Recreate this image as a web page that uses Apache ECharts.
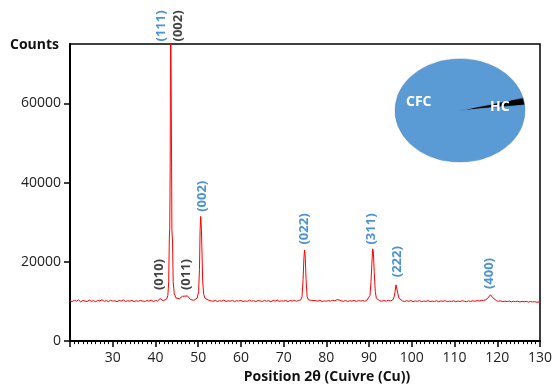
<!DOCTYPE html>
<html>
<head>
<meta charset="utf-8">
<script src="https://cdn.jsdelivr.net/npm/echarts@6/dist/echarts.min.js"></script>
<style>
html,body{margin:0;padding:0;background:#fff;}
#wrap{position:relative;width:559px;height:389px;}
#pie{position:absolute;left:394px;top:58px;width:132px;height:132px;transform:scaleY(0.795);transform-origin:0 0;z-index:1;}
#main{position:absolute;left:0;top:0;width:559px;height:389px;z-index:2;}
</style>
</head>
<body>
<div id="wrap"><div id="pie"></div><div id="main"></div></div>
<script>
// XRD pattern (2θ in degrees, counts)
const twoTheta = [
20.0,20.5,21.0,21.5,22.0,22.5,23.0,23.5,24.0,24.5,25.0,25.5,26.0,26.5,27.0,27.5,28.0,28.5,29.0,29.5,
30.0,30.5,31.0,31.5,32.0,32.5,33.0,33.5,34.0,34.5,35.0,35.5,36.0,36.5,37.0,37.5,38.0,38.5,39.0,39.5,
40.0,40.5,40.8,41.1,41.4,41.8,42.2,42.6,42.9,43.1,43.25,43.35,43.45,43.55,43.65,43.75,43.85,44.0,44.15,44.4,
44.8,45.2,45.6,46.0,46.3,46.6,46.9,47.2,47.5,47.8,48.2,48.6,49.0,49.4,49.8,50.1,50.3,50.45,50.6,50.75,
50.9,51.05,51.3,51.6,52.0,52.5,53.0,53.5,54.0,54.5,55.0,55.5,56.0,56.5,57.0,57.5,58.0,58.5,59.0,59.5,
60.0,60.5,61.0,61.5,62.0,62.5,63.0,63.5,64.0,64.5,65.0,65.5,66.0,66.5,67.0,67.5,68.0,68.5,69.0,69.5,
70.0,70.5,71.0,71.5,72.0,72.5,73.0,73.5,74.0,74.3,74.55,74.75,74.9,75.05,75.25,75.5,75.8,76.2,76.6,77.0,
77.5,78.0,78.5,79.0,79.5,80.0,80.5,81.0,81.5,82.0,82.5,83.0,83.5,84.0,84.5,85.0,85.5,86.0,86.5,87.0,
87.5,88.0,88.5,89.0,89.5,89.9,90.2,90.45,90.7,90.85,91.0,91.2,91.45,91.7,92.0,92.5,93.0,93.5,94.0,94.5,
95.0,95.5,95.8,96.05,96.3,96.5,96.75,97.0,97.4,97.8,98.3,98.8,99.3,99.8,100.3,100.8,101.3,101.8,102.3,102.8,
103.3,103.8,104.3,104.8,105.3,105.8,106.3,106.8,107.3,107.8,108.3,108.8,109.3,109.8,110.3,110.8,111.3,111.8,112.3,112.8,
113.3,113.8,114.3,114.8,115.3,115.8,116.3,116.8,117.3,117.8,118.1,118.4,118.7,119.0,119.4,119.8,120.3,120.8,121.3,121.8,
122.3,122.8,123.3,123.8,124.3,124.8,125.3,125.8,126.3,126.8,127.3,127.8,128.3,128.8,129.3,129.8,130.0
];
const counts = [
10180,9950,10320,10080,10400,9900,10250,10120,9980,10350,10060,10200,9920,10280,10150,10450,10020,10230,9970,10310,
10090,10180,9940,10260,10110,10380,10000,10210,10070,10300,9960,10190,10050,10270,10130,9990,10240,10090,10330,10010,
10220,10120,10350,10750,10400,10200,10350,10600,11500,15000,26000,28500,45000,90000,90000,50000,28000,25000,15000,12000,
10900,10650,10700,10950,11300,11600,11350,11650,11400,10900,10500,10350,10300,10450,10900,12500,18000,28000,31500,28500,
22000,15000,11800,10800,10450,10300,10150,10050,10280,9980,10200,10090,10340,10010,10180,10060,10290,9950,10210,10100,
10270,9990,10150,10040,10310,10080,10190,9960,10240,10120,10020,10280,10070,10200,9940,10250,10110,10330,10030,10170,
10090,10260,9970,10220,10120,10300,10050,10250,10400,11200,15500,21000,23000,21500,15500,11300,10400,10150,10280,10020,
10210,10090,10320,9980,10160,10060,10240,10110,10300,10200,10450,10380,10150,10040,10260,9990,10190,10080,10290,10000,
10230,10110,10260,10050,10350,10600,11500,15000,20500,23300,22500,17500,12500,10800,10350,10180,10050,10240,10090,10290,
10150,10350,10900,12300,14200,13800,11900,10800,10300,10150,9980,10200,10050,10250,9960,10140,10030,10220,9950,10120,
10010,10230,9970,10100,10000,10190,9930,10150,10040,10210,9960,10090,10010,10170,9940,10120,9990,10200,10060,9950,
10140,10020,10180,10050,10240,10130,10300,10250,10450,10850,11350,11700,11400,10900,10400,10200,10050,10150,9940,10090,
9980,10130,9900,10060,9950,10080,9870,10020,9920,10040,9850,9990,9880,9960,9800,9900,9850
];
// Peak annotations (Miller indices), phase and label anchor (2θ, counts)
const annoLabels = ['(111)','(002)','(010)','(011)','(002)','(022)','(311)','(222)','(400)'];
const annoPhase  = ['CFC','HC','HC','HC','CFC','CFC','CFC','CFC','CFC'];
const annoX      = [41.5, 45.5, 41.0, 47.3, 51.1, 75.0, 90.7, 96.8, 118.3];
const annoY      = [75500, 75500, 12750, 12750, 32500, 24250, 24250, 16000, 13000];
// Phase fractions (pie inset)
const phaseNames  = ['HC','CFC'];
const phaseValues = [2.25, 97.75];
// Axis ticks
const xTicks = {min:20, max:130, interval:10};
const yTicks = {min:0, max:75000, interval:20000};

const phaseColor = {CFC:'#1F77C9', HC:'#111111'};
const font = "'Open Sans', 'Liberation Sans', sans-serif";

const main = echarts.init(document.getElementById('main'), null, {renderer:'canvas'});
main.setOption({
  animation:false,
  backgroundColor:'transparent',
  title:{text:'Counts', left:10, top:38, padding:0,
    textStyle:{fontFamily:font, fontSize:14, fontWeight:'bold', color:'#111'}},
  grid:{left:70, top:44, right:19, bottom:45, show:true, borderColor:'#000', borderWidth:1.5},
  xAxis:{type:'value', min:xTicks.min, max:xTicks.max, interval:xTicks.interval,
    name:'Position 2θ (Cuivre (Cu))', nameLocation:'middle', nameGap:28,
    nameTextStyle:{fontFamily:font, fontSize:14, fontWeight:'bold', color:'#111', padding:[0,0,0,44]},
    axisLine:{lineStyle:{color:'#000', width:2}},
    axisTick:{length:6, lineStyle:{color:'#000', width:1.5}},
    minorTick:{show:true, splitNumber:10, length:3, lineStyle:{color:'#000', width:1}},
    axisLabel:{showMinLabel:false, fontFamily:font, fontSize:14, color:'#222', margin:10},
    splitLine:{show:false}},
  yAxis:{type:'value', min:yTicks.min, max:yTicks.max, interval:yTicks.interval,
    axisLine:{show:true, lineStyle:{color:'#000', width:2}},
    axisTick:{show:true, length:6, lineStyle:{color:'#000', width:1.5}},
    axisLabel:{showMaxLabel:false, fontFamily:font, fontSize:14, color:'#222', margin:9,
      formatter:v=>String(v)},
    splitLine:{show:false}},
  graphic:[
    {type:'text', left:406, top:95, style:{text:phaseNames[1], fill:'#fff', font:"bold 14px "+font}},
    {type:'text', left:490, top:100, style:{text:phaseNames[0], fill:'#fff', font:"bold 14px "+font}}
  ],
  series:[
    {type:'line', data:twoTheta.map((t,i)=>[t,counts[i]]), showSymbol:false, clip:true,
      lineStyle:{color:'#FF0000', width:1}, silent:true},
    {type:'scatter', clip:false, silent:true, symbolSize:1, itemStyle:{color:'rgba(0,0,0,0)'},
      data:annoLabels.map((l,i)=>({name:l, value:[annoX[i], annoY[i]],
        label:{color:phaseColor[annoPhase[i]]}})),
      label:{show:true, formatter:p=>p.name, position:[0,0], rotate:90, align:'left', verticalAlign:'middle',
        fontFamily:font, fontSize:13, fontWeight:'bold'},
      labelLayout:{hideOverlap:false}}
  ]
});

const pie = echarts.init(document.getElementById('pie'), null, {renderer:'canvas'});
pie.setOption({
  animation:false,
  series:[{type:'pie', center:['50%','50%'], radius:['0%','65'], startAngle:14.3, clockwise:true,
    silent:true, label:{show:false}, labelLine:{show:false},
    itemStyle:{borderColor:'#4F86BF', borderWidth:0.6},
    data:phaseNames.map((n,i)=>({name:n, value:phaseValues[i],
      itemStyle:{color:n==='HC'?'#000000':'#5B9BD5'}}))}]
});
</script>
</body>
</html>
